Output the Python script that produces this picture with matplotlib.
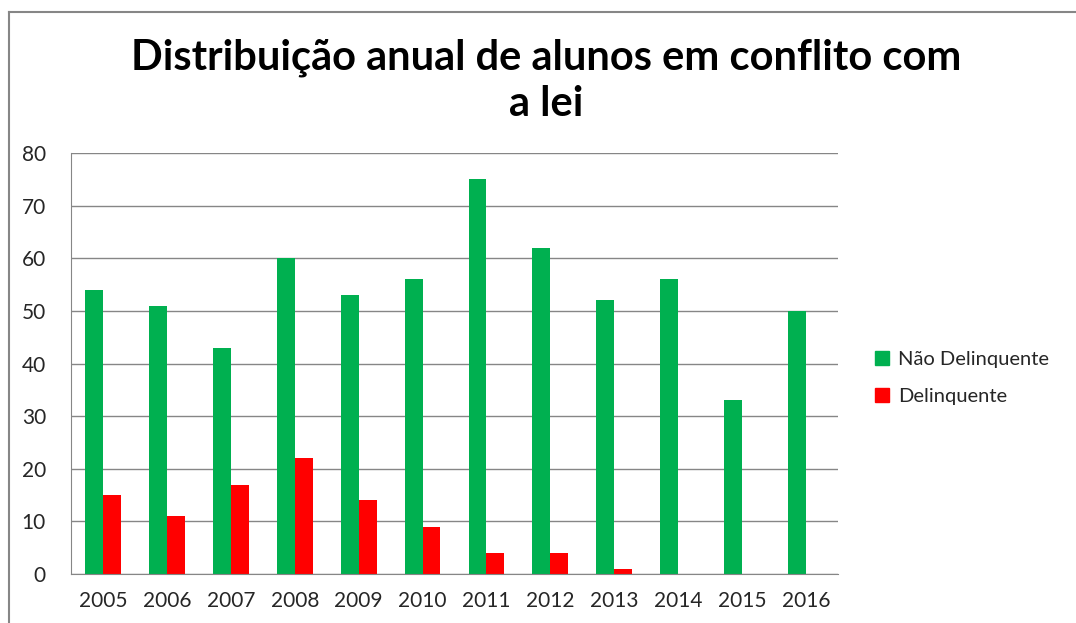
import numpy as np
import matplotlib.pyplot as plt
from matplotlib.lines import Line2D

anos = ["2005", "2006", "2007", "2008", "2009", "2010", "2011", "2012", "2013", "2014", "2015", "2016"]
nao_delinquente = [54, 51, 43, 60, 53, 56, 75, 62, 52, 56, 33, 50]
delinquente = [15, 11, 17, 22, 14, 9, 4, 4, 1, 0, 0, 0]
yticks = [0, 10, 20, 30, 40, 50, 60, 70, 80]

plt.rcParams['font.family'] = ['Lato', 'DejaVu Sans']

fig = plt.figure(figsize=(10.76, 6.23), dpi=100)
ax = fig.add_axes([71/1076, 1-574/623, (838-71)/1076, (574-153)/623])

x = np.arange(len(anos))
w = 0.28
ax.bar(x - w/2, nao_delinquente, w, color="#00B050", label="Não Delinquente")
ax.bar(x + w/2, delinquente, w, color="#FF0000", label="Delinquente")

ax.set_xlim(-0.5, len(anos) - 0.5)
ax.set_ylim(0, 80)
ax.set_yticks(yticks)
ax.set_xticks(x)
ax.set_xticklabels(anos)
ax.tick_params(axis='both', length=0, labelsize=15, colors="#262626")
ax.tick_params(axis='x', pad=12)
ax.tick_params(axis='y', pad=18)
ax.grid(axis='y', color="#868686", linewidth=1)
ax.set_axisbelow(True)
for s in ["top", "right"]:
    ax.spines[s].set_visible(False)
ax.spines["left"].set_color("#868686")
ax.spines["bottom"].set_color("#868686")

fig.text(0.508, 1-81/623, "Distribuição anual de alunos em conflito com\na lei",
         ha="center", va="center", fontsize=30, fontweight="bold", linespacing=1.25)

handles = [Line2D([], [], marker="s", linestyle="", markersize=10, color="#00B050"),
           Line2D([], [], marker="s", linestyle="", markersize=10, color="#FF0000")]
fig.legend(handles, ["Não Delinquente", "Delinquente"], loc="center left",
           bbox_to_anchor=(852/1076, 1-378/623), frameon=False, fontsize=14.5,
           handletextpad=0.2, labelspacing=1.0, handlelength=1.2, labelcolor="#262626")

# moldura do grafico
fig.add_artist(Line2D([9/1076, 9/1076], [0, 1-12/623], color="#868686", linewidth=1.5))
fig.add_artist(Line2D([9/1076, 1], [1-12/623, 1-12/623], color="#868686", linewidth=1.5))

fig.savefig("out.png", dpi=100)
